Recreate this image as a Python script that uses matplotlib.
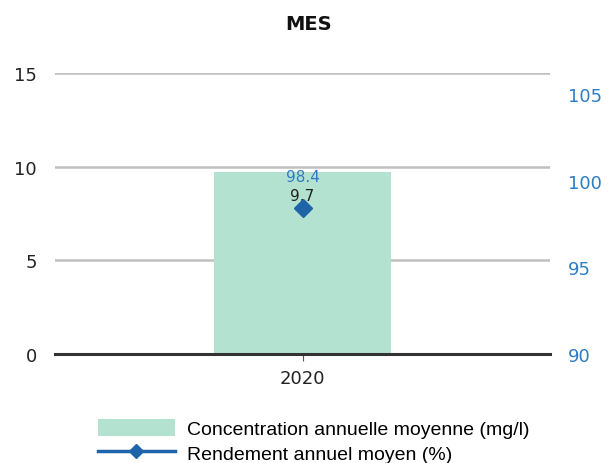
import matplotlib
matplotlib.use("Agg")
import matplotlib.pyplot as plt
from matplotlib.lines import Line2D
from matplotlib.patches import Patch

years = ["2020"]
concentration = [9.7]
rendement = [98.4]
conc_labels = ["9.7"]
rend_labels = ["98.4"]
left_ticks = [0, 5, 10, 15]
right_ticks = [90, 95, 100, 105]

bar_color = "#b3e2d0"
line_color = "#1f63a8"
right_text = "#2e7cc2"

fig = plt.figure(figsize=(6.08, 4.64), dpi=100)
ax = fig.add_axes([55/608, 1-355/464, 495/608, 281/464])
ax2 = ax.twinx()

x = list(range(len(years)))
ax.bar(x, concentration, width=0.5, color=bar_color, zorder=2)
ax.set_xlim(-0.7, 0.7)
ax.set_ylim(0, 15)
ax.set_yticks(left_ticks)
ax.set_xticks(x)
ax.set_xticklabels(years)
ax.grid(axis="y", color="#c0c0c0", linewidth=1.8, zorder=0)
for s in ["top", "left", "right"]:
    ax.spines[s].set_visible(False)
ax.spines["bottom"].set_color("#333333")
ax.spines["bottom"].set_linewidth(2.2)
ax.spines["bottom"].set_zorder(3)
ax.tick_params(axis="y", length=0, pad=13, labelsize=13, labelcolor="#222222")
ax.tick_params(axis="x", length=5, color="#555555", labelsize=13, pad=6, labelcolor="#222222")

ax2.plot(x, rendement, color=line_color, marker="D", markersize=9, linewidth=2, zorder=4)
ax2.set_ylim(90, 106.2)
ax2.set_yticks(right_ticks)
for s in ["top", "left", "right", "bottom"]:
    ax2.spines[s].set_visible(False)
ax2.tick_params(axis="y", length=0, pad=13, labelsize=13, labelcolor=right_text)

for xi, v, t in zip(x, concentration, conc_labels):
    ax.annotate(t, (xi, v), xytext=(0, -17), textcoords="offset points",
                ha="center", va="center", fontsize=11, color="#222222", zorder=5)
for xi, v, t in zip(x, rendement, rend_labels):
    ax2.annotate(t, (xi, v), xytext=(0, 23), textcoords="offset points",
                 ha="center", va="center", fontsize=11, color=right_text, zorder=5)

fig.text(309/608, 1-25/464, "MES", ha="center", va="center", fontsize=14, fontweight="bold", color="#111111")

handles = [Patch(facecolor=bar_color, edgecolor="none"),
           Line2D([0], [0], color=line_color, marker="D", markersize=7, linewidth=2.5)]
labels = ["Concentration annuelle moyenne (mg/l)", "Rendement annuel moyen (%)"]
fig.legend(handles, labels, loc="upper left", bbox_to_anchor=(80/608, 1-402/464),
           frameon=False, handlelength=4.0, handleheight=1.0, labelspacing=0.3,
           handletextpad=0.6, prop={"family": "Liberation Sans", "size": 14})

fig.savefig("out.png", dpi=100)
